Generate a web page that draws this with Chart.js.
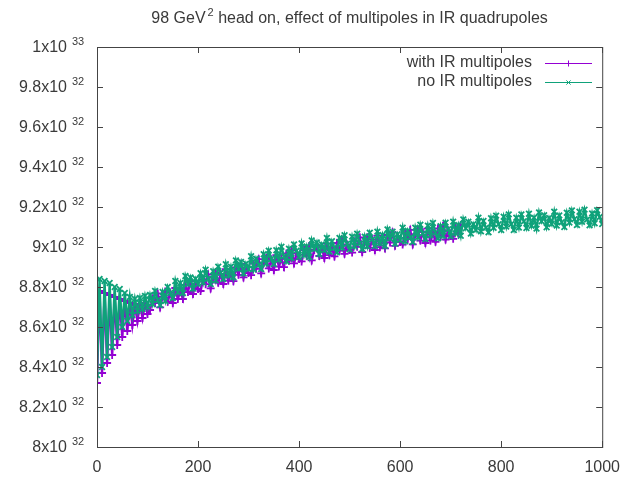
<!DOCTYPE html>
<html>
<head>
<meta charset="utf-8">
<script src="https://cdn.jsdelivr.net/npm/chart.js@4.4.0/dist/chart.umd.min.js"></script>
<style>
  body { margin: 0; background: #fff; }
  #wrap { width: 631px; height: 479px; }
</style>
</head>
<body>
<div id="wrap"><canvas id="lumiChart" width="631" height="479"></canvas></div>
<script>
// luminosity vs turn, values in units of 1e32, one sample every TURN_STEP turns
const TURN_STEP = 5;
const LUMI_UNIT = 1e32;

const withMultipoles = [
  8.32, 8.78, 8.37, 8.77, 8.42, 8.76, 8.46, 8.75, 8.51, 8.74, 8.55, 8.73, 8.58, 8.72, 8.61, 8.71, 8.63, 8.715, 8.645, 8.72, 8.665,
  8.685, 8.744, 8.719, 8.768, 8.698, 8.752, 8.777, 8.726, 8.771, 8.72,
  8.795, 8.74, 8.78, 8.74, 8.81, 8.775, 8.83, 8.765, 8.815, 8.79,
  8.78, 8.839, 8.814, 8.863, 8.793, 8.847, 8.872, 8.821, 8.866, 8.815,
  8.889, 8.832, 8.871, 8.829, 8.898, 8.861, 8.915, 8.848, 8.897, 8.87,
  8.859, 8.917, 8.891, 8.939, 8.868, 8.921, 8.945, 8.893, 8.937, 8.885,
  8.959, 8.902, 8.941, 8.899, 8.968, 8.931, 8.985, 8.918, 8.967, 8.94,
  8.928, 8.985, 8.958, 9.005, 8.933, 8.985, 9.008, 8.955, 8.998, 8.945,
  9.017, 8.959, 8.996, 8.953, 9.02, 8.982, 9.034, 8.966, 9.013, 8.985,
  8.972, 9.029, 9.001, 9.048, 8.975, 9.027, 9.049, 8.996, 9.038, 8.985,
  9.057, 8.999, 9.036, 8.993, 9.06, 9.022, 9.074, 9.006, 9.053, 9.025,
  9.012, 9.068, 9.04, 9.086, 9.013, 9.064, 9.086, 9.032, 9.074, 9.02,
  9.092, 9.033, 9.07, 9.026, 9.093, 9.054, 9.106, 9.037, 9.084, 9.055,
  9.041, 9.097, 9.069, 9.11
];

const noMultipoles = [
  8.36, 8.84, 8.40, 8.83, 8.45, 8.82, 8.50, 8.80, 8.55, 8.79, 8.60, 8.77, 8.63, 8.75, 8.66, 8.74, 8.68, 8.745, 8.69, 8.755, 8.70,
  8.76, 8.715, 8.78, 8.735, 8.71, 8.775, 8.73, 8.80, 8.77, 8.745,
  8.83, 8.775, 8.82, 8.77, 8.855, 8.815, 8.848, 8.792, 8.841, 8.815,
  8.869, 8.823, 8.887, 8.841, 8.815, 8.879, 8.833, 8.902, 8.871, 8.84,
  8.914, 8.857, 8.901, 8.849, 8.933, 8.891, 8.925, 8.868, 8.917, 8.89,
  8.954, 8.888, 8.942, 8.911, 8.89, 8.964, 8.918, 8.982, 8.941, 8.915,
  8.984, 8.937, 9.001, 8.954, 8.928, 8.991, 8.945, 9.013, 8.982, 8.95,
  9.018, 8.96, 9.003, 8.95, 9.033, 8.99, 9.023, 8.965, 9.013, 8.985,
  9.045, 8.977, 9.029, 8.996, 8.973, 9.045, 8.997, 9.059, 9.016, 8.988,
  9.052, 9.004, 9.066, 9.018, 8.99, 9.052, 9.004, 9.071, 9.038, 9.005,
  9.077, 9.018, 9.06, 9.006, 9.088, 9.044, 9.076, 9.017, 9.064, 9.035,
  9.097, 9.029, 9.081, 9.048, 9.025, 9.097, 9.049, 9.111, 9.068, 9.04,
  9.107, 9.058, 9.12, 9.071, 9.043, 9.104, 9.056, 9.122, 9.089, 9.055,
  9.127, 9.068, 9.11, 9.056, 9.138, 9.094, 9.126, 9.067, 9.114, 9.085,
  9.147, 9.078, 9.13, 9.096, 9.073, 9.144, 9.096, 9.157, 9.114, 9.085,
  9.151, 9.102, 9.163, 9.114, 9.085, 9.146, 9.097, 9.163, 9.129, 9.095,
  9.166, 9.106, 9.147, 9.092, 9.173, 9.128, 9.159, 9.099, 9.145, 9.115,
  9.176, 9.107, 9.158, 9.124, 9.10, 9.171, 9.122, 9.183, 9.139, 9.11,
  9.176, 9.126, 9.187, 9.137, 9.108, 9.168, 9.119, 9.184, 9.15, 9.115
];

const seriesNames = ['with IR multipoles', 'no IR multipoles'];
const seriesColors = ['#9400d3', '#0fa27a'];

const xTicks = [0, 200, 400, 600, 800, 1000];
const yTickMantissa = ['8', '8.2', '8.4', '8.6', '8.8', '9', '9.2', '9.4', '9.6', '9.8', '1'];
const yTickExponent = [32, 32, 32, 32, 32, 32, 32, 32, 32, 32, 33];

const FONT = '"Liberation Sans", Arial, sans-serif';
const TEXT_COLOR = '#3a3a3a';

function toPoints(values) {
  return values.map((v, i) => ({ x: i * TURN_STEP, y: v * LUMI_UNIT }));
}

// border, inward ticks, y labels with exponents, title and legend
const gnuplotFrame = {
  id: 'gnuplotFrame',
  afterDraw(chart) {
    const { ctx, chartArea: a, scales: { x, y } } = chart;
    ctx.save();
    ctx.strokeStyle = '#444';
    ctx.lineWidth = 1;
    ctx.strokeRect(a.left + 0.5, a.top + 0.5, a.right - a.left, a.bottom - a.top);

    ctx.beginPath();
    xTicks.forEach(v => {
      const px = Math.round(x.getPixelForValue(v)) + 0.5;
      ctx.moveTo(px, a.bottom); ctx.lineTo(px, a.bottom - 6);
      ctx.moveTo(px, a.top); ctx.lineTo(px, a.top + 6);
    });
    yTickMantissa.forEach((m, i) => {
      const py = Math.round(y.getPixelForValue(Number(m) * Math.pow(10, yTickExponent[i]))) + 0.5;
      ctx.moveTo(a.left, py); ctx.lineTo(a.left + 6, py);
      ctx.moveTo(a.right, py); ctx.lineTo(a.right - 6, py);
    });
    ctx.stroke();

    // y tick labels: "9.8x10" with raised exponent
    ctx.fillStyle = TEXT_COLOR;
    ctx.textBaseline = 'middle';
    yTickMantissa.forEach((m, i) => {
      const py = y.getPixelForValue(Number(m) * Math.pow(10, yTickExponent[i]));
      ctx.font = '16px ' + FONT;
      ctx.textAlign = 'right';
      ctx.fillText(m + 'x10', 67, py + 1);
      ctx.font = '11px ' + FONT;
      ctx.textAlign = 'left';
      ctx.fillText(String(yTickExponent[i]), 72, py - 5);
    });

    // title with superscript
    const t1 = '98 GeV', sup = '2', t2 = ' head on, effect of multipoles in IR quadrupoles';
    ctx.font = '16px ' + FONT;
    const w1 = ctx.measureText(t1).width, w3 = ctx.measureText(t2).width;
    ctx.font = '11px ' + FONT;
    const w2 = ctx.measureText(sup).width + 2;
    const tx = (a.left + a.right) / 2 - (w1 + w2 + w3) / 2;
    ctx.textAlign = 'left';
    ctx.font = '16px ' + FONT;
    ctx.fillText(t1, tx, 19);
    ctx.font = '11px ' + FONT;
    ctx.fillText(sup, tx + w1 + 2, 13);
    ctx.font = '16px ' + FONT;
    ctx.fillText(t2, tx + w1 + w2, 19);

    // legend, top right inside the frame
    const rows = [63, 82];
    const styles = ['cross', 'crossRot'];
    seriesNames.forEach((name, i) => {
      ctx.fillStyle = TEXT_COLOR;
      ctx.font = '16px ' + FONT;
      ctx.textAlign = 'right';
      ctx.fillText(name, 532, rows[i]);
      ctx.strokeStyle = seriesColors[i];
      ctx.lineWidth = 1;
      ctx.beginPath();
      ctx.moveTo(545, rows[i] + 0.5);
      ctx.lineTo(592, rows[i] + 0.5);
      ctx.stroke();
      Chart.helpers.drawPoint(ctx, { pointStyle: styles[i], radius: 3, borderWidth: 1 }, 568.5, rows[i] + 0.5);
    });
    ctx.restore();
  }
};

function seriesStyle(color, pointStyle) {
  return {
    showLine: true,
    borderColor: color,
    backgroundColor: color,
    borderWidth: 2.4,
    pointStyle: pointStyle,
    pointRadius: 4,
    pointBorderWidth: 1.8
  };
}

new Chart(document.getElementById('lumiChart'), {
  type: 'scatter',
  data: {
    datasets: [
      Object.assign({ label: seriesNames[1], data: toPoints(noMultipoles), order: 1 },
        seriesStyle(seriesColors[1], 'crossRot')),
      Object.assign({ label: seriesNames[0], data: toPoints(withMultipoles), order: 2 },
        seriesStyle(seriesColors[0], 'cross'))
    ]
  },
  options: {
    responsive: false,
    animation: false,
    layout: { padding: { top: 47, right: 21, bottom: 0, left: 0 } },
    plugins: {
      legend: { display: false },
      title: { display: false },
      tooltip: { enabled: false }
    },
    scales: {
      x: {
        type: 'linear',
        min: 0,
        max: 1000,
        afterFit: s => { s.height = 32; },
        grid: { display: false, drawTicks: false },
        border: { display: false },
        ticks: {
          stepSize: 200,
          maxRotation: 0,
          padding: 11,
          color: TEXT_COLOR,
          font: { size: 16, family: FONT },
          callback: v => String(v)
        }
      },
      y: {
        type: 'linear',
        min: 8e32,
        max: 1e33,
        afterFit: s => { s.width = 97; },
        grid: { display: false },
        border: { display: false },
        ticks: { display: false }
      }
    }
  },
  plugins: [gnuplotFrame]
});
</script>
</body>
</html>
